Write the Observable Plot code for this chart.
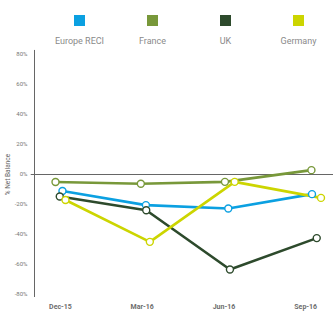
<!DOCTYPE html>
<html>
<head>
<meta charset="utf-8">
<script src="https://cdn.jsdelivr.net/npm/d3@7"></script>
<script src="https://cdn.jsdelivr.net/npm/@observablehq/plot@0.6"></script>
<style>
  html, body { margin: 0; padding: 0; background: #fff; }
  #wrap { position: relative; width: 333px; height: 324px; font-family: Roboto, "DejaVu Sans", sans-serif; }
  #legend { position: absolute; left: 43px; top: 15px; display: flex; }
  .item { width: 73px; display: flex; flex-direction: column; align-items: center; }
  .sw { width: 11px; height: 11px; }
  .lab { margin-top: 10px; font-size: 9px; color: #8a8a8a; white-space: nowrap; }
</style>
</head>
<body>
<div id="wrap"><div id="legend"></div><div id="chart"></div></div>
<script>
const categories = ["Dec-15", "Mar-16", "Jun-16", "Sep-16"];
const seriesNames = ["Europe RECI", "France", "UK", "Germany"];
const seriesColors = ["#0ba0e1", "#78983a", "#2d4a2c", "#ccd500"];
// x positions in category units (points sit slightly offset within each period)
const europeX = [0.024, 1.045, 2.053, 3.077];
const franceX = [-0.061, 0.983, 2.012, 3.070];
const ukX = [-0.009, 1.049, 2.073, 3.135];
const germanyX = [0.061, 1.093, 2.131, 3.187];
// values, % net balance
const europe = [-11, -20.4, -22.7, -13.1];
const france = [-5, -6.2, -4.9, 2.9];
const uk = [-14.7, -23.8, -63.3, -42.4];
const germany = [-17, -44.9, -4.9, -15.6];
const yTicks = [-80, -60, -40, -20, 0, 20, 40, 60, 80];

const xs = [europeX, franceX, ukX, germanyX];
const vs = [europe, france, uk, germany];
const data = [];
seriesNames.forEach((s, i) => vs[i].forEach((v, j) => data.push({series: s, x: xs[i][j], y: v})));

const xMin = -0.318, xMax = 3.34;

const chart = Plot.plot({
  width: 333,
  height: 324,
  marginLeft: 34,
  marginRight: 0,
  marginTop: 54,
  marginBottom: 30,
  style: {fontFamily: "Roboto, 'DejaVu Sans', sans-serif", background: "transparent"},
  x: {type: "linear", domain: [xMin, xMax]},
  y: {domain: [-80, 80]},
  color: {domain: seriesNames, range: seriesColors},
  marks: [
    Plot.ruleX([xMin], {y1: -82, y2: 82.7, stroke: "#666", strokeWidth: 1, clip: false}),
    Plot.ruleY([0], {x1: xMin - 0.04, x2: xMax, stroke: "#666", strokeWidth: 1}),
    Plot.axisY({ticks: yTicks, tickSize: 0, tickPadding: 7, tickFormat: d => d + "%", fontSize: 6, color: "#777", label: null}),
    Plot.axisX({ticks: [0, 1, 2, 3], tickSize: 0, tickPadding: 10, tickFormat: d => categories[d], fontSize: 7, fontWeight: "bold", color: "#6d6d6d", label: null}),
    Plot.text(["% Net Balance"], {frameAnchor: "left", dx: -27, y: 0, rotate: -90, textAnchor: "middle", fontSize: 6.5, fill: "#666"}),
    Plot.line(data, {x: "x", y: "y", z: "series", stroke: "series", strokeWidth: 2.6}),
    Plot.dot(data, {x: "x", y: "y", stroke: "series", fill: "white", r: 3.5, strokeWidth: 1.4})
  ]
});
document.getElementById("chart").appendChild(chart);

const legend = document.getElementById("legend");
seriesNames.forEach((s, i) => {
  const it = document.createElement("div");
  it.className = "item";
  it.innerHTML = `<div class="sw" style="background:${seriesColors[i]}"></div><div class="lab">${s}</div>`;
  legend.appendChild(it);
});
</script>
</body>
</html>
